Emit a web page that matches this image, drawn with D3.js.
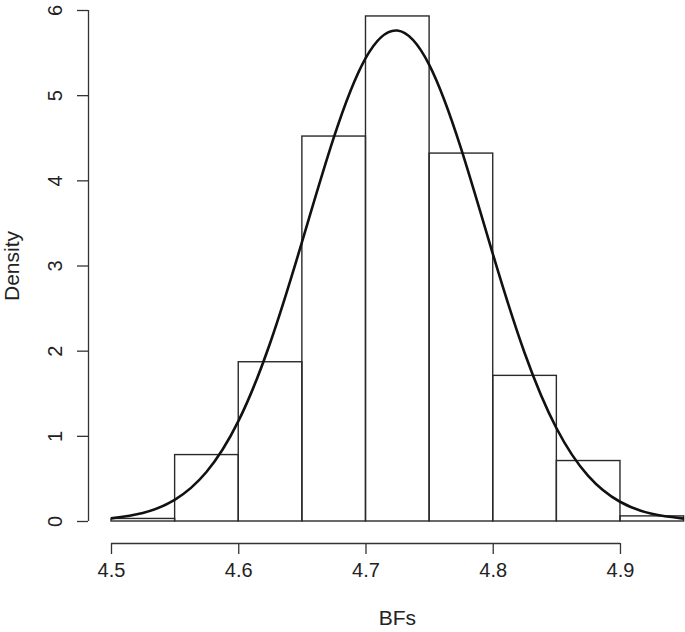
<!DOCTYPE html>
<html>
<head>
<meta charset="utf-8">
<script src="https://cdn.jsdelivr.net/npm/d3@7"></script>
<style>
  body { margin: 0; background: #fff; }
  svg text { font-family: "Liberation Sans", Arial, sans-serif; fill: #222; }
</style>
</head>
<body>
<svg id="chart" width="685" height="632"></svg>
<script>
// histogram of BFs
var breaks = [4.50, 4.55, 4.60, 4.65, 4.70, 4.75, 4.80, 4.85, 4.90, 4.95];
var density = [0.03, 0.78, 1.87, 4.52, 5.93, 4.32, 1.71, 0.71, 0.06];

// fitted curve
var curveX = [4.500, 4.525, 4.550, 4.575, 4.600, 4.625, 4.650, 4.675, 4.700, 4.725,
              4.750, 4.775, 4.800, 4.825, 4.850, 4.875, 4.900, 4.925, 4.950];
var curveY = [0.031, 0.094, 0.248, 0.575, 1.169, 2.087, 3.271, 4.498, 5.432, 5.759,
              5.359, 4.378, 3.140, 1.976, 1.092, 0.530, 0.226, 0.084, 0.028];

var xTicks = [4.5, 4.6, 4.7, 4.8, 4.9];
var yTicks = [0, 1, 2, 3, 4, 5, 6];

var svg = d3.select("#chart");

var x = d3.scaleLinear().domain([4.5, 4.95]).range([111, 683.6]);
var y = d3.scaleLinear().domain([0, 6]).range([521, 10]);

var bins = density.map(function (d, i) {
    return { x0: breaks[i], x1: breaks[i + 1], d: d };
});

svg.append("g")
    .selectAll("rect")
    .data(bins).enter()
    .append("rect")
    .attr("x", function (b) { return x(b.x0); })
    .attr("width", function (b) { return x(b.x1) - x(b.x0); })
    .attr("y", function (b) { return y(b.d); })
    .attr("height", function (b) { return y(0) - y(b.d); })
    .attr("fill", "none")
    .attr("stroke", "#2a2a2a")
    .attr("stroke-width", 1.4);

var pts = curveX.map(function (v, i) { return [v, curveY[i]]; });
var line = d3.line()
    .x(function (p) { return x(p[0]); })
    .y(function (p) { return y(p[1]); })
    .curve(d3.curveNatural);

svg.append("path")
    .attr("d", line(pts))
    .attr("fill", "none")
    .attr("stroke", "#111")
    .attr("stroke-width", 2.6);

// x axis
var xAxis = d3.axisBottom(x).tickValues(xTicks).tickSize(11).tickPadding(9)
    .tickFormat(d3.format(".1f"));
var gx = svg.append("g").attr("transform", "translate(0,543)").call(xAxis);
gx.select(".domain").attr("d", "M" + x(4.5) + ",0.5H" + x(4.9)).attr("stroke", "#333").attr("stroke-width", 1.3);
gx.selectAll(".tick line").attr("stroke", "#333").attr("stroke-width", 1.3);
gx.selectAll(".tick text").attr("font-size", 20).attr("fill", "#222")
    .attr("font-family", "Liberation Sans, Arial, sans-serif");

// y axis
var yAxis = d3.axisLeft(y).tickValues(yTicks).tickSize(11).tickPadding(0)
    .tickFormat(d3.format("d"));
var gy = svg.append("g").attr("transform", "translate(88,0)").call(yAxis);
gy.select(".domain").attr("d", "M0.5," + y(0) + "V" + y(6)).attr("stroke", "#333").attr("stroke-width", 1.3);
gy.selectAll(".tick line").attr("stroke", "#333").attr("stroke-width", 1.3);
gy.selectAll(".tick text")
    .attr("font-size", 20).attr("fill", "#222")
    .attr("font-family", "Liberation Sans, Arial, sans-serif")
    .attr("x", null)
    .attr("text-anchor", "middle")
    .attr("transform", "translate(-33,0) rotate(-90)")
    .attr("y", 0)
    .attr("dy", "0.35em");

svg.append("text")
    .attr("x", x(4.725)).attr("y", 625)
    .attr("text-anchor", "middle")
    .attr("font-size", 21)
    .text("BFs");

svg.append("text")
    .attr("transform", "translate(19,266) rotate(-90)")
    .attr("text-anchor", "middle")
    .attr("font-size", 21)
    .text("Density");
</script>
</body>
</html>
